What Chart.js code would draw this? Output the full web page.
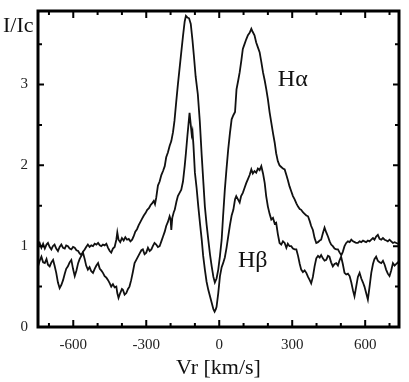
<!DOCTYPE html>
<html>
<head>
<meta charset="utf-8">
<script src="https://cdn.jsdelivr.net/npm/chart.js@4/dist/chart.umd.min.js"></script>
<style>
html,body{margin:0;padding:0;background:#fff;}
#c{display:block;}
</style>
</head>
<body>
<canvas id="c" width="409" height="382"></canvas>
<script>
// ---- Data ----
const haVel = [-745,-738,-731,-724,-717,-710,-704,-697,-690,-684,-677,-670,-663,-656,-649,-642,-635,-629,-622,-615,-608,-601,-594,-587,-580,-574,-567,-560,-553,-547,-540,-533,-526,-519,-512,-505,-498,-491,-485,-478,-471,-464,-457,-450,-444,-437,-430,-423,-419,-414,-407,-400,-393,-386,-379,-372,-365,-358,-352,-345,-338,-331,-324,-317,-310,-303,-296,-289,-282,-276,-269,-264,-259,-252,-245,-238,-231,-224,-218,-211,-204,-197,-190,-184,-177,-170,-163,-156,-149,-142,-137,-131,-124,-117,-110,-104,-97,-88,-80,-72,-65,-59,-52,-45,-38,-31,-24,-18,-11,-4,3,10,16,23,30,37,44,51,58,65,71,78,84,91,97,104,111,118,125,132,138,145,152,159,166,173,180,187,193,200,207,214,221,228,234,241,248,255,262,269,276,282,289,296,303,310,317,324,331,337,344,351,358,365,372,378,385,392,399,406,413,419,426,433,440,447,454,460,467,474,481,488,495,502,508,515,522,529,536,543,550,557,563,570,577,584,591,597,604,611,618,625,632,638,645,652,659,666,673,680,687,693,700,707,714,721,728,735,742];
const haInt = [1.00,1.04,0.98,1.03,0.97,1.02,1.04,0.99,0.96,1.00,1.02,0.97,0.94,0.99,1.02,0.98,0.97,1.01,1.00,0.97,0.96,0.99,0.98,0.95,0.94,0.91,0.89,0.93,0.96,0.99,1.02,0.99,1.01,1.00,1.03,1.02,1.04,1.01,1.00,1.02,1.01,1.03,0.98,0.94,0.92,0.97,0.99,1.08,1.17,1.08,1.05,1.10,1.07,1.11,1.08,1.09,1.06,1.08,1.12,1.18,1.21,1.26,1.30,1.34,1.38,1.41,1.45,1.47,1.51,1.53,1.56,1.52,1.60,1.75,1.80,1.88,1.93,1.99,2.10,2.16,2.24,2.30,2.41,2.55,2.78,3.00,3.20,3.40,3.60,3.78,3.85,3.83,3.82,3.75,3.55,3.35,3.10,2.88,2.55,2.12,1.78,1.49,1.27,1.08,0.90,0.75,0.62,0.55,0.60,0.71,0.88,1.08,1.38,1.70,1.96,2.20,2.40,2.57,2.62,2.66,2.94,3.05,3.15,3.30,3.44,3.50,3.56,3.61,3.64,3.69,3.65,3.61,3.52,3.46,3.40,3.28,3.15,3.05,2.95,2.82,2.66,2.53,2.40,2.28,2.15,2.05,2.00,1.98,1.96,1.95,1.88,1.82,1.74,1.68,1.62,1.58,1.53,1.49,1.46,1.45,1.42,1.40,1.38,1.37,1.31,1.25,1.20,1.10,1.04,1.05,1.07,1.08,1.16,1.23,1.17,1.12,1.06,1.02,1.00,0.97,0.96,0.96,0.92,0.89,0.93,1.00,1.04,1.06,1.05,1.08,1.06,1.05,1.04,1.04,1.06,1.05,1.07,1.06,1.05,1.07,1.06,1.08,1.10,1.08,1.12,1.14,1.09,1.08,1.10,1.08,1.07,1.06,1.08,1.06,1.04,1.05,1.04,1.03,1.02];

const hbVel = [-745,-738,-731,-724,-717,-710,-704,-697,-690,-683,-677,-670,-663,-656,-649,-642,-635,-629,-622,-615,-608,-601,-594,-587,-580,-574,-567,-560,-553,-547,-540,-533,-526,-519,-512,-505,-498,-491,-485,-478,-471,-464,-457,-450,-444,-437,-430,-423,-419,-414,-407,-400,-396,-389,-382,-375,-369,-362,-355,-348,-341,-334,-327,-320,-314,-307,-300,-293,-286,-279,-273,-266,-259,-252,-245,-238,-231,-224,-218,-211,-204,-200,-197,-193,-187,-183,-176,-170,-163,-156,-149,-142,-137,-131,-126,-122,-117,-113,-110,-106,-100,-93,-86,-79,-72,-66,-59,-52,-45,-38,-31,-24,-19,-14,-11,-4,3,10,16,23,30,37,44,51,58,65,70,77,84,90,97,104,111,118,125,132,138,145,152,159,166,173,180,187,193,200,207,214,221,228,234,241,248,255,262,269,276,282,289,296,303,310,317,324,331,337,344,351,358,365,372,378,385,392,399,406,413,419,426,433,440,447,453,460,467,474,481,488,494,501,508,515,522,529,536,543,550,556,563,570,577,584,591,597,604,611,618,625,632,638,645,652,659,666,673,680,686,693,700,707,714,721,728,735,742];
const hbInt = [0.75,0.82,0.87,0.80,0.79,0.84,0.77,0.75,0.80,0.83,0.76,0.67,0.55,0.48,0.52,0.58,0.66,0.72,0.75,0.80,0.83,0.72,0.63,0.70,0.79,0.84,0.88,0.92,0.84,0.76,0.71,0.74,0.69,0.67,0.72,0.76,0.79,0.72,0.70,0.67,0.63,0.61,0.58,0.54,0.50,0.53,0.49,0.50,0.42,0.36,0.42,0.47,0.46,0.40,0.42,0.47,0.50,0.58,0.68,0.79,0.83,0.87,0.91,0.95,0.96,0.90,0.92,0.98,0.94,0.96,1.00,1.04,1.02,0.99,1.00,1.06,1.12,1.18,1.25,1.30,1.37,1.33,1.20,1.35,1.42,1.45,1.55,1.62,1.66,1.70,1.80,1.99,2.15,2.36,2.52,2.65,2.50,2.38,2.42,2.25,1.91,1.72,1.49,1.28,1.08,0.88,0.71,0.56,0.46,0.38,0.30,0.22,0.19,0.22,0.25,0.42,0.63,0.74,0.79,0.86,0.98,1.12,1.26,1.38,1.45,1.58,1.62,1.58,1.54,1.62,1.66,1.72,1.78,1.83,1.88,1.95,1.90,1.93,1.91,1.96,1.94,1.99,1.90,1.78,1.62,1.49,1.40,1.33,1.35,1.28,1.29,1.15,1.04,1.02,1.06,1.04,0.98,1.03,1.00,1.00,0.97,0.96,0.96,0.88,0.78,0.71,0.68,0.70,0.67,0.62,0.58,0.54,0.62,0.75,0.85,0.88,0.86,0.89,0.85,0.82,0.83,0.88,0.87,0.80,0.75,0.78,0.79,0.76,0.82,0.87,0.78,0.67,0.65,0.66,0.63,0.55,0.45,0.38,0.50,0.62,0.67,0.60,0.55,0.50,0.42,0.34,0.50,0.67,0.78,0.84,0.87,0.82,0.80,0.79,0.82,0.77,0.71,0.66,0.63,0.70,0.79,0.76,0.78,0.80,0.76];

const xMajorTicks = [-600,-300,0,300,600];
const xMinorTicks = [-700,-500,-400,-200,-100,100,200,400,500,700];
const yMajorTicks = [0,1,2,3];
const yMinorTicks = [0.5,1.5,2.5,3.5];
const seriesLabels = ['H\u03B1','H\u03B2'];
const labelPos = [[241,2.98],[77,0.74]];
const xTitle = 'Vr [km/s]';
const yTitle = 'I/Ic';

const SERIF = '"Liberation Serif", "DejaVu Serif", serif';

const framePlugin = {
  id: 'frame',
  afterDatasetsDraw(chart) {
    const {ctx, chartArea: a, scales: {x, y}} = chart;
    ctx.save();
    ctx.strokeStyle = '#000';
    ctx.lineWidth = 2;
    const xt = (v, len) => {
      const px = x.getPixelForValue(v);
      ctx.beginPath();
      ctx.moveTo(px, a.bottom); ctx.lineTo(px, a.bottom - len);
      ctx.moveTo(px, a.top); ctx.lineTo(px, a.top + len);
      ctx.stroke();
    };
    const yt = (v, len) => {
      const py = y.getPixelForValue(v);
      ctx.beginPath();
      ctx.moveTo(a.left, py); ctx.lineTo(a.left + len, py);
      ctx.moveTo(a.right, py); ctx.lineTo(a.right - len, py);
      ctx.stroke();
    };
    xMajorTicks.forEach(v => xt(v, 7));
    xMinorTicks.forEach(v => xt(v, 4));
    yMajorTicks.forEach(v => yt(v, 6));
    yMinorTicks.forEach(v => yt(v, 4));
    ctx.lineWidth = 3;
    ctx.strokeRect(a.left, a.top, a.right - a.left, a.bottom - a.top);
    ctx.fillStyle = '#111';
    ctx.textAlign = 'left';
    ctx.textBaseline = 'alphabetic';
    ctx.font = '22px ' + SERIF;
    ctx.fillText(yTitle, 3, 32);
    ctx.font = '24px ' + SERIF;
    seriesLabels.forEach((t, i) => {
      ctx.fillText(t, x.getPixelForValue(labelPos[i][0]), y.getPixelForValue(labelPos[i][1]));
    });
    ctx.restore();
  }
};

const mk = (vs, is) => vs.map((v, i) => ({x: v, y: is[i]}));

new Chart(document.getElementById('c'), {
  type: 'line',
  data: {
    datasets: [
      {label: seriesLabels[0], data: mk(haVel, haInt), borderColor: '#111', borderWidth: 1.8, pointRadius: 0, tension: 0, fill: false},
      {label: seriesLabels[1], data: mk(hbVel, hbInt), borderColor: '#111', borderWidth: 1.8, pointRadius: 0, tension: 0, fill: false}
    ]
  },
  options: {
    responsive: false,
    devicePixelRatio: 1,
    animation: false,
    events: [],
    layout: {padding: {top: 11, right: 10, left: 0, bottom: 0}},
    plugins: {legend: {display: false}, tooltip: {enabled: false}},
    scales: {
      x: {
        type: 'linear', min: -745, max: 739,
        afterFit(s) { s.height = 55; s.paddingLeft = 0; s.paddingRight = 0; },
        afterBuildTicks(s) { s.ticks = xMajorTicks.map(v => ({value: v})); },
        grid: {display: false, drawTicks: false},
        border: {display: false},
        ticks: {color: '#222', font: {family: SERIF, size: 15}, padding: 9, maxRotation: 0, autoSkip: false,
          callback: v => String(v)},
        title: {display: true, text: xTitle, color: '#111', font: {family: SERIF, size: 22}, padding: {top: 0, bottom: 1}}
      },
      y: {
        type: 'linear', min: 0, max: 3.91,
        afterFit(s) { s.width = 38; s.paddingTop = 0; s.paddingBottom = 0; },
        afterBuildTicks(s) { s.ticks = yMajorTicks.map(v => ({value: v})); },
        grid: {display: false, drawTicks: false},
        border: {display: false},
        ticks: {color: '#222', font: {family: SERIF, size: 15}, padding: 10, callback: v => String(v)}
      }
    }
  },
  plugins: [framePlugin]
});
</script>
</body>
</html>
